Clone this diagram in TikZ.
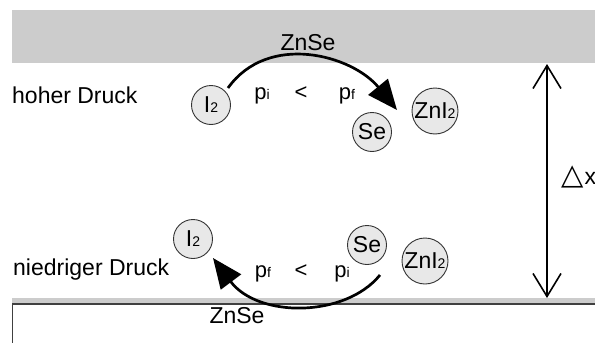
\documentclass[tikz,border=0pt]{standalone}
\usepackage{fontspec}
\setmainfont{Liberation Sans}
\newfontfamily\symfont{DejaVu Sans}
\usetikzlibrary{arrows.meta}
\definecolor{plategray}{HTML}{CCCCCC}
\definecolor{ballgray}{HTML}{E8E8E8}
\definecolor{rimgray}{HTML}{333333}
\definecolor{edgegray}{HTML}{404040}
% small index set on the baseline (I2, ZnI2, p_i, p_f)
\newcommand{\smallidx}[1]{{\fontsize{14}{14}\selectfont #1}}

\begin{document}
\begin{tikzpicture}[x=1pt,y=-1pt,
  species/.style={circle,draw=rimgray,fill=ballgray,line width=0.9pt,
    inner sep=0pt,minimum size=#1,font=\fontsize{23}{25}\selectfont},
  labeltext/.style={font=\fontsize{23}{26}\selectfont,inner sep=0pt},
  ptext/.style={font=\fontsize{22}{24}\selectfont,inner sep=0pt,anchor=base},
  flow/.style={line width=2.7pt,-{Triangle[length=30pt,width=25pt]}},
  gap/.style={line width=1.6pt,
    {Straight Barb[length=23pt,width=28pt]}-{Straight Barb[length=23pt,width=28pt]}},
]
\useasboundingbox (0,0) rectangle (595,343);
\clip (0,0) rectangle (595,343);

% upper ZnSe source plate
\fill[plategray] (12,10) rectangle (600,63);
\node[labeltext,anchor=base] (znseTop) at (308,50) {ZnSe};

% lower ZnSe growth plate
\fill[plategray] (12,298) rectangle (600,304);
\draw[edgegray,line width=1.4pt] (12.7,360) -- (12.7,304) -- (600,304);
\node[labeltext,anchor=base] (znseBot) at (237,323) {ZnSe};

% side labels
\node[labeltext,anchor=base west] (high) at (12,103) {hoher Druck};
\node[labeltext,anchor=base west] (low) at (13,275) {niedriger Druck};

% species at high pressure
\node[species=39pt] (i2Top) at (211,105) {I\smallidx{2}};
\node[species=39pt] (seTop) at (372,132) {Se};
\node[species=46pt] (zniTop) at (435,111) {ZnI\smallidx{2}};
\node[ptext] (piTop) at (262,99) {p\smallidx{i}};
\node[ptext] (ltTop) at (301,99) {<};
\node[ptext] (pfTop) at (347,99) {p\smallidx{f}};

% species at low pressure
\node[species=39pt] (i2Bot) at (193,239) {I\smallidx{2}};
\node[species=39pt] (seBot) at (367,245) {Se};
\node[species=46pt] (zniBot) at (425,261) {ZnI\smallidx{2}};
\node[ptext] (pfBot) at (263,277) {p\smallidx{f}};
\node[ptext] (ltBot) at (301,277) {<};
\node[ptext] (piBot) at (342,277) {p\smallidx{i}};

% transport loops
\coordinate (srcTop) at (228,88);
\coordinate (dstTop) at (397,110);
\draw[flow] (srcTop) .. controls (268,32) and (352,55) .. (dstTop);
\coordinate (srcBot) at (380,275);
\coordinate (dstBot) at (213,258);
\draw[flow] (srcBot) .. controls (345,318) and (258,318) .. (dstBot);

% plate distance
\coordinate (gapTop) at (547,64);
\coordinate (gapBot) at (547,298);
\draw[gap] (gapTop) -- (gapBot);
\node[labeltext,anchor=west,inner sep=0pt] (dx) at (561,177)
  {{\symfont\fontsize{29}{30}\selectfont △}\kern1pt x};
\end{tikzpicture}
\end{document}
